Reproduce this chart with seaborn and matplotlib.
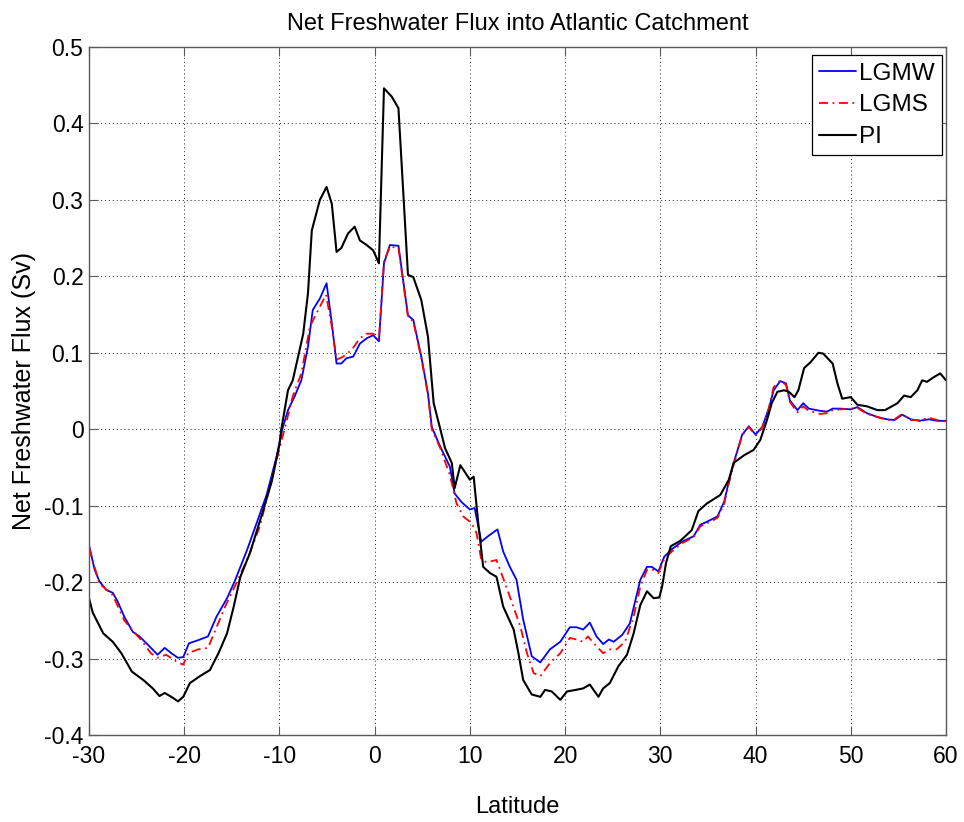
import matplotlib
matplotlib.use("Agg")
import matplotlib.pyplot as plt
import seaborn as sns
import pandas as pd

# ---------------- data ----------------
lat_lgmw = [-30, -29.4, -28.9, -28.2, -27.5, -27.0, -26.3, -25.4, -24.7, -23.8, -22.8, -22.05,
            -21.35, -20.65, -20.1, -19.5, -18.55, -17.5, -16.6, -15.5, -14.7, -13.4, -12.4,
            -11.35, -10.3, -9.7, -9.1, -8.4, -7.7, -7.0, -6.5, -5.75, -5.05, -4.5, -4.0, -3.5,
            -2.95, -2.25, -1.55, -0.84, -0.15, 0.45, 0.98, 1.6, 2.5, 3.5, 4.06, 4.9, 5.6, 6.0,
            6.9, 7.9, 8.4, 9.1, 10.0, 10.5, 11.2, 11.9, 12.9, 13.5, 14.2, 14.9, 15.6, 16.5,
            17.4, 18.4, 19.5, 20.5, 21.2, 21.9, 22.6, 23.3, 24.0, 24.6, 25.1, 26.0, 26.8, 27.9,
            28.6, 29.1, 29.8, 30.4, 31.2, 32.3, 33.5, 34.2, 34.9, 36.0, 36.7, 37.4, 37.9, 38.6,
            39.3, 40.0, 40.7, 41.4, 41.9, 42.6, 43.2, 43.6, 44.4, 45.0, 45.6, 46.8, 47.5, 48.1,
            48.9, 50.0, 50.7, 51.7, 52.8, 53.8, 54.6, 55.4, 56.3, 57.2, 58.2, 59.1, 60.0]
flux_lgmw = [-0.151, -0.184, -0.199, -0.210, -0.214, -0.225, -0.245, -0.265, -0.271, -0.282,
             -0.295, -0.286, -0.293, -0.299, -0.298, -0.280, -0.276, -0.271, -0.245, -0.221,
             -0.199, -0.158, -0.123, -0.086, -0.036, 0.000, 0.025, 0.043, 0.064, 0.108, 0.156,
             0.171, 0.191, 0.139, 0.086, 0.086, 0.093, 0.095, 0.112, 0.119, 0.123, 0.115, 0.217,
             0.241, 0.240, 0.149, 0.143, 0.095, 0.047, 0.003, -0.023, -0.049, -0.084, -0.095,
             -0.105, -0.103, -0.147, -0.140, -0.131, -0.160, -0.180, -0.197, -0.249, -0.297,
             -0.305, -0.288, -0.278, -0.259, -0.259, -0.262, -0.253, -0.271, -0.281, -0.275,
             -0.278, -0.269, -0.254, -0.197, -0.180, -0.180, -0.186, -0.167, -0.157, -0.147,
             -0.140, -0.125, -0.121, -0.114, -0.095, -0.058, -0.036, -0.007, 0.004, -0.007,
             0.003, 0.027, 0.051, 0.063, 0.060, 0.038, 0.025, 0.034, 0.027, 0.024, 0.023, 0.027,
             0.027, 0.026, 0.029, 0.021, 0.016, 0.013, 0.012, 0.019, 0.013, 0.011, 0.013, 0.011,
             0.011]

lat_lgms = [-30, -28.9, -27.5, -26.3, -25.5, -24.5, -23.5, -22.8, -21.9, -20.8, -20.1, -19.6,
            -18.55, -17.5, -17.0, -15.7, -14.7, -13.4, -12.05, -11.0, -9.95, -9.4, -8.6, -7.7,
            -6.8, -6.1, -5.1, -4.5, -4.0, -3.3, -2.4, -1.55, -0.84, -0.15, 0.45, 0.98, 1.6, 2.5,
            3.5, 4.06, 4.9, 5.6, 6.0, 6.9, 7.9, 8.6, 9.3, 10.2, 10.7, 11.2, 11.8, 12.8, 13.3,
            14.2, 15.3, 16.0, 16.7, 17.4, 18.4, 19.5, 20.5, 21.2, 21.9, 22.4, 23.3, 24.0, 24.7,
            25.4, 26.3, 27.2, 27.9, 28.6, 29.1, 29.8, 30.4, 31.2, 32.3, 33.5, 34.2, 34.9, 36.0,
            36.7, 37.4, 37.9, 38.6, 39.3, 40.0, 40.7, 41.4, 41.9, 42.6, 43.2, 43.6, 44.4, 45.0,
            45.6, 46.8, 47.5, 48.1, 48.9, 50.0, 50.7, 51.7, 52.8, 53.8, 54.6, 55.4, 56.3, 57.2,
            58.2, 59.1, 60.0]
flux_lgms = [-0.155, -0.202, -0.217, -0.250, -0.262, -0.276, -0.293, -0.299, -0.295, -0.304,
             -0.308, -0.293, -0.288, -0.286, -0.271, -0.232, -0.206, -0.171, -0.127, -0.075,
             -0.023, 0.003, 0.043, 0.073, 0.134, 0.152, 0.176, 0.134, 0.091, 0.095, 0.104,
             0.119, 0.125, 0.125, 0.117, 0.219, 0.239, 0.237, 0.147, 0.141, 0.093, 0.045, 0.000,
             -0.025, -0.060, -0.097, -0.114, -0.123, -0.136, -0.171, -0.174, -0.171, -0.188,
             -0.219, -0.258, -0.293, -0.319, -0.323, -0.306, -0.293, -0.273, -0.275, -0.278,
             -0.271, -0.284, -0.293, -0.288, -0.288, -0.278, -0.245, -0.206, -0.184, -0.183,
             -0.188, -0.170, -0.160, -0.149, -0.141, -0.127, -0.123, -0.116, -0.098, -0.060,
             -0.038, -0.008, 0.003, -0.008, 0.002, 0.028, 0.055, 0.064, 0.058, 0.036, 0.022,
             0.030, 0.024, 0.020, 0.021, 0.025, 0.026, 0.027, 0.028, 0.020, 0.016, 0.012, 0.013,
             0.020, 0.012, 0.012, 0.015, 0.012, 0.010]

lat_pi = [-30, -29.6, -28.5, -27.5, -26.6, -25.5, -24.3, -23.3, -22.6, -22.05, -21.35, -20.65,
          -20.1, -19.4, -18.35, -17.3, -16.4, -15.5, -14.8, -14.1, -13.1, -11.9, -10.8, -10.0,
          -9.8, -9.1, -8.6, -8.0, -7.5, -7.0, -6.6, -5.75, -5.05, -4.5, -4.0, -3.5, -2.8, -2.1,
          -1.55, -0.84, -0.15, 0.45, 0.98, 1.8, 2.5, 3.5, 4.06, 4.9, 5.6, 6.2, 6.9, 7.4, 8.1,
          8.4, 9.0, 10.0, 10.4, 10.9, 11.4, 12.1, 12.8, 13.5, 14.6, 15.1, 15.6, 16.5, 17.4,
          17.9, 18.6, 19.5, 20.2, 21.1, 21.9, 22.6, 23.5, 24.0, 24.7, 25.6, 26.5, 27.2, 27.9,
          28.6, 29.3, 29.9, 30.2, 30.6, 31.1, 32.1, 33.3, 34.0, 34.9, 36.3, 37.2, 37.7, 38.8,
          39.8, 40.5, 41.2, 41.7, 42.3, 43.0, 43.5, 44.1, 44.5, 45.1, 45.8, 46.6, 47.1, 48.1,
          48.6, 49.1, 50.0, 50.7, 51.7, 52.8, 53.6, 54.9, 55.6, 56.3, 57.0, 57.5, 58.0, 58.7,
          59.4, 60.0]
flux_pi = [-0.221, -0.240, -0.267, -0.278, -0.293, -0.317, -0.328, -0.339, -0.349, -0.345,
           -0.350, -0.356, -0.350, -0.332, -0.323, -0.315, -0.293, -0.267, -0.232, -0.193,
           -0.162, -0.114, -0.068, -0.020, 0.000, 0.051, 0.064, 0.097, 0.125, 0.178, 0.260,
           0.300, 0.317, 0.295, 0.232, 0.237, 0.256, 0.265, 0.247, 0.241, 0.234, 0.217, 0.446,
           0.435, 0.420, 0.202, 0.199, 0.169, 0.121, 0.034, 0.000, -0.025, -0.044, -0.077,
           -0.047, -0.066, -0.062, -0.125, -0.180, -0.188, -0.193, -0.232, -0.262, -0.293,
           -0.328, -0.347, -0.350, -0.341, -0.343, -0.354, -0.343, -0.341, -0.339, -0.334,
           -0.350, -0.339, -0.332, -0.310, -0.295, -0.267, -0.230, -0.212, -0.221, -0.220,
           -0.205, -0.175, -0.153, -0.146, -0.132, -0.107, -0.097, -0.086, -0.066, -0.044,
           -0.034, -0.027, -0.014, 0.012, 0.034, 0.049, 0.051, 0.049, 0.042, 0.051, 0.080,
           0.088, 0.100, 0.099, 0.086, 0.060, 0.040, 0.042, 0.032, 0.030, 0.025, 0.025, 0.034,
           0.044, 0.042, 0.051, 0.064, 0.062, 0.068, 0.073, 0.064]

x_ticks = [-30, -20, -10, 0, 10, 20, 30, 40, 50, 60]
y_ticks = [-0.4, -0.3, -0.2, -0.1, 0, 0.1, 0.2, 0.3, 0.4, 0.5]
y_tick_labels = ["-0.4", "-0.3", "-0.2", "-0.1", "0", "0.1", "0.2", "0.3", "0.4", "0.5"]

title = "Net Freshwater Flux into Atlantic Catchment"
xlabel = "Latitude"
ylabel = "Net Freshwater Flux (Sv)"

# ---------------- styling ----------------
sns.set_style("ticks")
plt.rcParams["font.family"] = ["Liberation Sans", "DejaVu Sans"]
plt.rcParams["text.color"] = "black"
plt.rcParams["axes.labelcolor"] = "black"
plt.rcParams["xtick.labelcolor"] = "black"
plt.rcParams["ytick.labelcolor"] = "black"
plt.rcParams["axes.edgecolor"] = "#5a5a5a"

fig = plt.figure(figsize=(9.64, 8.22), dpi=100)
ax = fig.add_axes([0.0923, 0.1058, 0.8890, 0.8370])

df_w = pd.DataFrame({"lat": lat_lgmw, "flux": flux_lgmw})
df_s = pd.DataFrame({"lat": lat_lgms, "flux": flux_lgms})
df_p = pd.DataFrame({"lat": lat_pi, "flux": flux_pi})

sns.lineplot(data=df_w, x="lat", y="flux", ax=ax, color="#0000ff", lw=1.3,
             estimator=None, sort=False, label="LGMW")
sns.lineplot(data=df_s, x="lat", y="flux", ax=ax, color="#ff0000", lw=1.3,
             estimator=None, sort=False, label="LGMS", linestyle=(0, (5, 2.5, 1, 2.5)))
sns.lineplot(data=df_p, x="lat", y="flux", ax=ax, color="black", lw=1.5,
             estimator=None, sort=False, label="PI")

ax.set_xlim(-30, 60)
ax.set_ylim(-0.4, 0.5)
ax.set_xticks(x_ticks)
ax.set_xticklabels([str(t) for t in x_ticks])
ax.set_yticks(y_ticks)
ax.set_yticklabels(y_tick_labels)

ax.grid(True, linestyle=(0, (1, 3)), color="#222222", linewidth=0.7)
ax.tick_params(direction="in", length=6.5, width=0.8, color="#5a5a5a",
               top=True, right=True, labelsize=16.5, labelcolor="black")
ax.tick_params(axis="x", pad=7)
ax.tick_params(axis="y", pad=4)
for s in ax.spines.values():
    s.set_linewidth(1.0)
    s.set_color("#5a5a5a")

ax.set_title(title, fontsize=17, pad=12, color="black")
ax.set_xlabel(xlabel, fontsize=17, labelpad=20, color="black")
ax.set_ylabel(ylabel, fontsize=18, labelpad=6, color="black")

leg = ax.legend(loc="upper right", bbox_to_anchor=(0.995, 0.988), fontsize=17.5,
                frameon=True, fancybox=False, edgecolor="black", framealpha=1,
                handlelength=1.5, handletextpad=0.12, borderpad=0.3,
                labelspacing=0.4, borderaxespad=0.0)
leg.get_frame().set_linewidth(0.9)
for t in leg.get_texts():
    t.set_color("black")

fig.savefig("out.png", dpi=100)
